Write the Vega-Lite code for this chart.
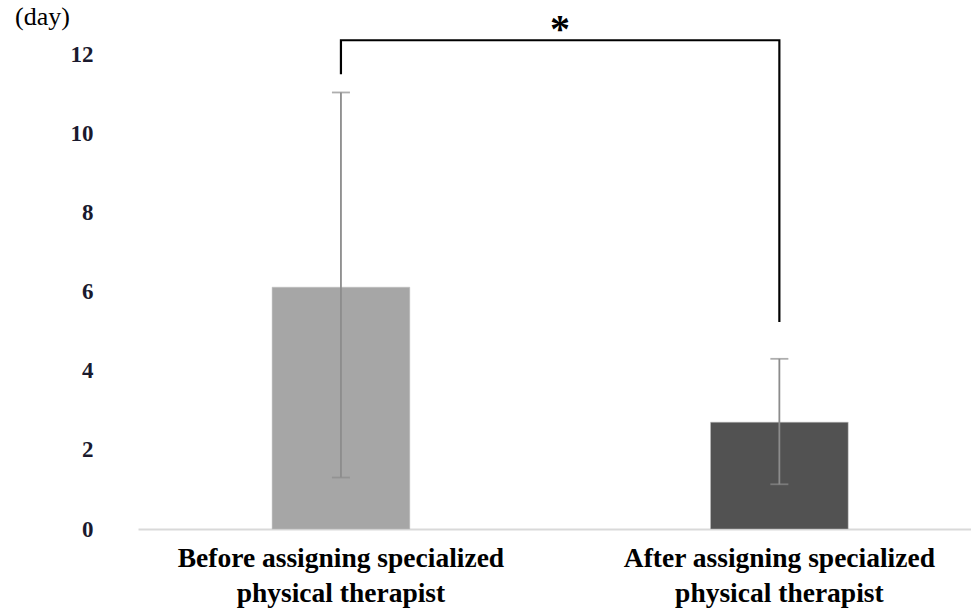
{
  "$schema": "https://vega.github.io/schema/vega-lite/v6.json",
  "width": 833,
  "height": 514.5,
  "autosize": {"type": "none"},
  "padding": {"left": 138, "top": 14.5, "right": 0, "bottom": 82},
  "background": "white",
  "config": {"view": {"stroke": null}, "font": "Liberation Serif"},
  "datasets": {
    "bars": [
      {"group": "Before assigning specialized|physical therapist", "mean": 6.11, "lo": 1.3, "hi": 11.03},
      {"group": "After assigning specialized|physical therapist", "mean": 2.7, "lo": 1.13, "hi": 4.3}
    ],
    "bracket": [
      {"group": "Before assigning specialized|physical therapist", "y": 11.52, "step": 1},
      {"group": "Before assigning specialized|physical therapist", "y": 12.35, "step": 2},
      {"group": "After assigning specialized|physical therapist", "y": 12.35, "step": 3},
      {"group": "After assigning specialized|physical therapist", "y": 5.26, "step": 4}
    ],
    "star": [
      {"group": "Before assigning specialized|physical therapist", "y": 12.6, "label": "*"}
    ]
  },
  "encoding": {
    "x": {
      "field": "group",
      "type": "nominal",
      "sort": null,
      "scale": {"paddingInner": 0.686, "paddingOuter": 0.293, "align": 0.522},
      "axis": {
        "title": null,
        "labelAngle": 0,
        "labelExpr": "split(datum.label, '|')",
        "labelFont": "Liberation Serif",
        "labelFontWeight": "bold",
        "labelFontSize": 27.5,
        "labelColor": "black",
        "labelLineHeight": 35,
        "labelPadding": 15,
        "labelBaseline": "top",
        "labelLimit": 1000,
        "ticks": false,
        "domainColor": "#d9d9d9",
        "domainWidth": 2,
        "grid": false
      }
    }
  },
  "layer": [
    {
      "data": {"name": "bars"},
      "mark": {"type": "bar", "stroke": "#bfbfbf", "strokeWidth": 0.5},
      "encoding": {
        "y": {
          "field": "mean",
          "type": "quantitative",
          "scale": {"domain": [0, 13], "nice": false},
          "axis": {
            "values": [0, 2, 4, 6, 8, 10, 12],
            "grid": false,
            "domain": false,
            "ticks": false,
            "labelFont": "Liberation Serif",
            "labelFontWeight": "bold",
            "labelFontSize": 23,
            "labelColor": "#1a1a2e",
            "labelPadding": 45,
            "title": "(day)",
            "titleAngle": 0,
            "titleFont": "Liberation Serif",
            "titleFontWeight": "normal",
            "titleFontSize": 26,
            "titleColor": "black",
            "titleAlign": "center",
            "titleBaseline": "middle",
            "titleX": -96,
            "titleY": 2
          }
        },
        "color": {
          "field": "group",
          "type": "nominal",
          "sort": null,
          "scale": {"range": ["#a6a6a6", "#525252"]},
          "legend": null
        }
      }
    },
    {
      "data": {"name": "bars"},
      "mark": {"type": "rule", "color": "#8c8c8c", "strokeWidth": 1.8},
      "encoding": {
        "y": {"field": "lo", "type": "quantitative"},
        "y2": {"field": "hi"}
      }
    },
    {
      "data": {"name": "bars"},
      "mark": {"type": "tick", "color": "#8c8c8c", "thickness": 1.8, "size": 18},
      "encoding": {"y": {"field": "lo", "type": "quantitative"}}
    },
    {
      "data": {"name": "bars"},
      "mark": {"type": "tick", "color": "#8c8c8c", "thickness": 1.8, "size": 18},
      "encoding": {"y": {"field": "hi", "type": "quantitative"}}
    },
    {
      "data": {"name": "bracket"},
      "mark": {"type": "line", "color": "black", "strokeWidth": 2.2, "strokeCap": "square"},
      "encoding": {
        "y": {"field": "y", "type": "quantitative"},
        "order": {"field": "step", "type": "quantitative"}
      }
    },
    {
      "data": {"name": "star"},
      "mark": {"type": "text", "font": "Liberation Serif", "fontWeight": "bold", "fontSize": 40, "dx": 219, "baseline": "middle", "align": "center", "color": "black"},
      "encoding": {
        "y": {"field": "y", "type": "quantitative"},
        "text": {"field": "label"}
      }
    }
  ]
}
